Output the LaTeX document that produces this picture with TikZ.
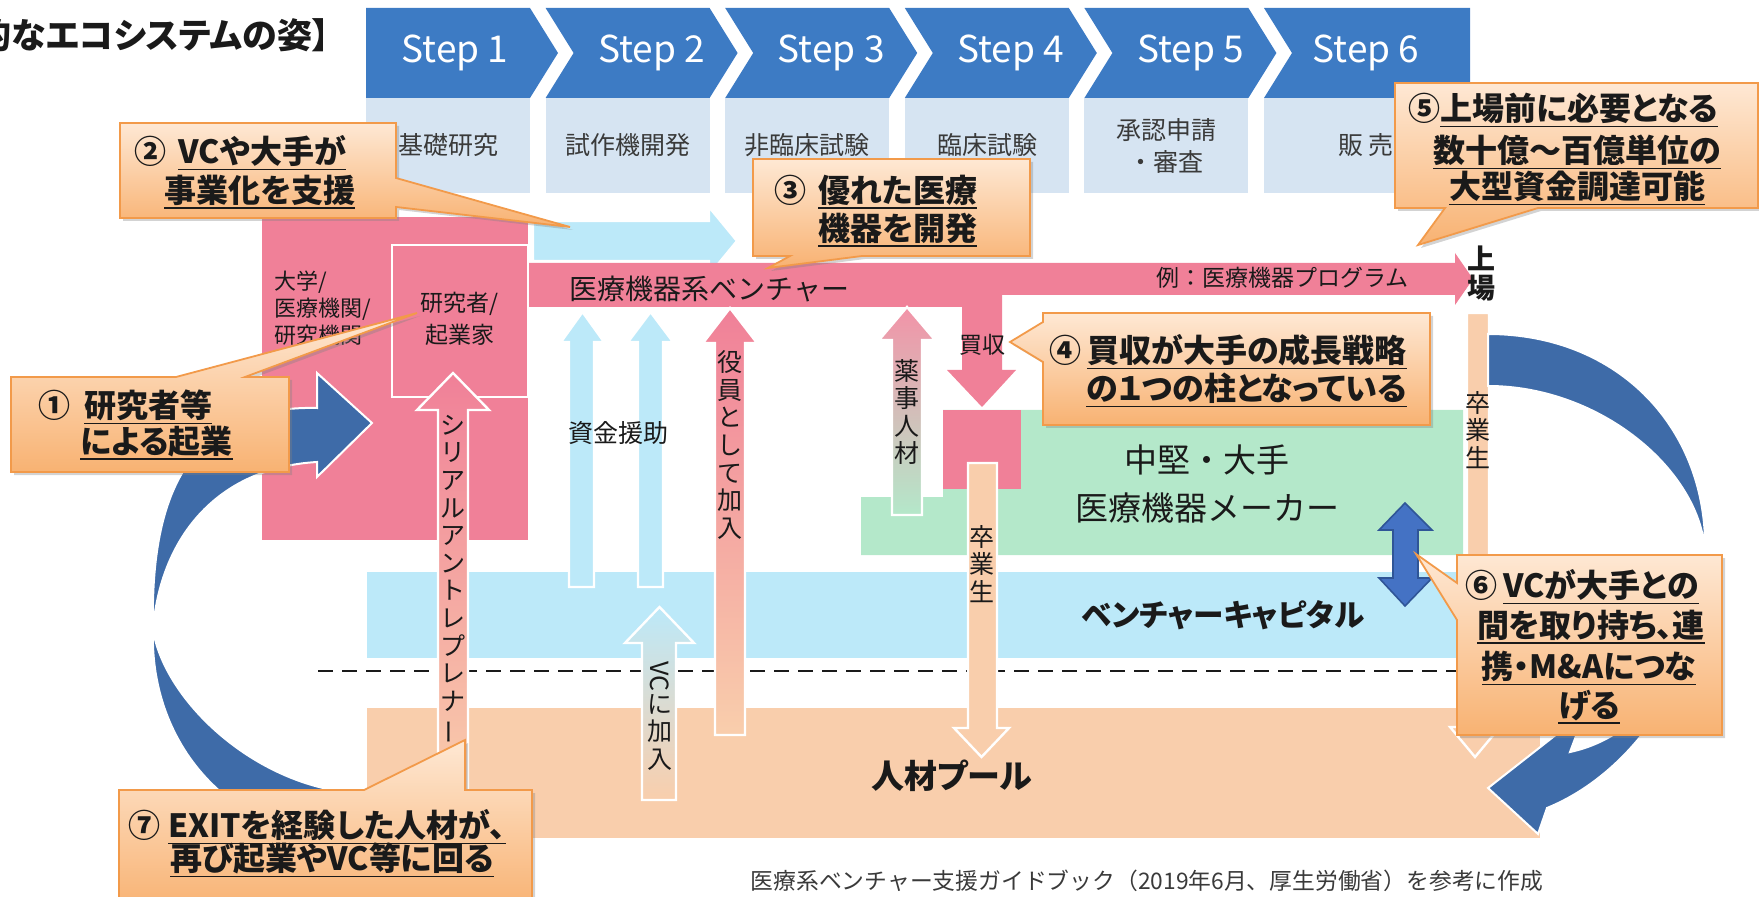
\documentclass[tikz,border=0pt]{standalone}
\usepackage{fontspec}
\usepackage{graphicx}
\setmainfont{Noto Sans CJK JP}
\newfontfamily\jpp{Noto Sans CJK JP}[RawFeature=+palt]
\usetikzlibrary{shadows}
\definecolor{stepblue}{HTML}{3D7BC4}
\definecolor{steplight}{HTML}{D6E4F2}
\definecolor{pinkc}{HTML}{F08098}
\definecolor{lblue}{HTML}{BCE9F9}
\definecolor{greenc}{HTML}{B4E8CA}
\definecolor{peach}{HTML}{F9CEAC}
\definecolor{arcblue}{HTML}{3E6BA8}
\definecolor{dblblue}{HTML}{4472C4}
\definecolor{dbledge}{HTML}{2F5597}
\definecolor{ctop}{HTML}{FEE8D4}
\definecolor{cbot}{HTML}{F8B272}
\definecolor{cedge}{HTML}{F29A4A}
\definecolor{txt}{HTML}{1A1A1A}
\definecolor{gtxt}{HTML}{3A3A3A}
\newcommand\fs[2]{\fontsize{#1}{#2}\selectfont}
\newcommand\ulx[1]{\setbox0\hbox{#1}\rlap{\rule[-3.4pt]{\wd0}{0.8pt}}\box0}
\newcommand\vbar{\rotatebox[origin=c]{90}{ー}}
\newcommand\varrow[8]{\path[#1] (#2,#8) -- (#2,#6) -- (#4,#6) -- ({(#4+#5)/2},#7) -- (#5,#6) -- (#3,#6) -- (#3,#8) -- cycle;}
\newcommand\chev[2]{\fill[stepblue] (#1,8) -- ({#1+164},8) -- ({#1+192},53) -- ({#1+164},98) -- (#1,98) -- ({#1+#2},53) -- cycle;
  \fill[steplight] (#1,98) rectangle ({#1+164},193);}
\begin{document}
\begin{tikzpicture}[x=0.5pt,y=-0.5pt,
  every node/.style={inner sep=0pt,text=txt},
  steptext/.style={text=white,font=\fs{18.5}{20}},
  lbl/.style={text=gtxt,font=\fs{12.5}{16},align=center},
  vtext/.style={font=\fs{12.5}{13.8},align=center},
  lbarrow/.style={fill=lblue,draw=white,line width=1.2pt},
  pinkpeach/.style={top color=pinkc,bottom color=peach,draw=white,line width=1.2pt},
  pinkgreen/.style={top color=pinkc!85,bottom color=greenc,draw=white,line width=1.2pt},
  bluepeach/.style={top color=lblue,bottom color=peach,draw=white,line width=1.2pt},
  peacharrow/.style={fill=peach,draw=white,line width=1.2pt},
  arcarrow/.style={fill=arcblue,draw=white,line width=1pt},
  callout/.style={draw=cedge,line width=0.9pt,top color=ctop,bottom color=cbot,
     drop shadow={shadow xshift=1.5pt,shadow yshift=-1.5pt,opacity=0.35}},
  ctext/.style={font=\jpp\bfseries\fs{16}{19},anchor=west},
]
\useasboundingbox (0,0) rectangle (1759,897);
% ---------- steps ----------
\chev{366}{0}
\chev{545.6}{28}
\chev{725.2}{28}
\chev{904.8}{28}
\chev{1084.4}{28}
\fill[stepblue] (1264,8) -- (1470,8) -- (1470,98) -- (1264,98) -- (1292,53) -- cycle;
\fill[steplight] (1264,98) rectangle (1470,193);
\node[steptext] (s1) at (455,53) {Step 1};
\node[steptext] (s2) at (651.6,53) {Step 2};
\node[steptext] (s3) at (831.2,53) {Step 3};
\node[steptext] (s4) at (1010.8,53) {Step 4};
\node[steptext] (s5) at (1190.4,53) {Step 5};
\node[steptext] (s6) at (1366,53) {Step 6};
\node[lbl] (l1) at (448,145) {基礎研究};
\node[lbl] (l2) at (628,145) {試作機開発};
\node[lbl] (l3) at (807,145) {非臨床試験};
\node[lbl] (l4) at (987,145) {臨床試験};
\node[lbl] (l5) at (1166,146) {承認申請\\・審査};
\node[lbl] (l6) at (1366,145) {販 売};
% ---------- regions ----------
\fill[pinkc] (262,217) rectangle (528,540);
\fill[lblue] (367,572) rectangle (1464,658);
\draw[txt,line width=1.4pt,dash pattern=on 7.5pt off 4.5pt] (318,671) -- (1457,671);
\fill[peach] (367,708) rectangle (1540,838);
\fill[greenc] (861,497) -- (943,497) -- (943,410) -- (1463,410) -- (1463,555) -- (861,555) -- cycle;
% VC support arrow
\path[lbarrow] (533,221) -- (709,221) -- (709,207) -- (737,241) -- (709,275) -- (709,261) -- (533,261) -- cycle;
% venture bar with acquisition arrow
\fill[pinkc] (528,263) -- (1455,263) -- (1455,253) -- (1473,279) -- (1455,305) -- (1455,295) -- (1002,295) -- (1002,370) -- (1016,370) -- (982,407) -- (947,370) -- (962,370) -- (962,307) -- (528,307) -- cycle;
\draw[white,line width=1.3pt] (392,245) rectangle (528,397);
\fill[pinkc] (943,410) rectangle (1021,489);
% ---------- vertical arrows ----------
\varrow{lbarrow}{569}{594}{561}{604}{342}{312}{587}
\varrow{lbarrow}{638}{663}{628}{673}{342}{312}{587}
\varrow{pinkpeach}{715}{745}{703}{757}{343}{308}{735}
\varrow{pinkgreen}{892}{922}{879}{935}{340}{307}{515}
\varrow{pinkpeach}{438}{468}{417}{489}{410}{373}{800}
\varrow{bluepeach}{642}{676}{625}{694}{643}{607}{800}
\varrow{peacharrow}{968}{997}{954}{1009}{728}{757}{463}
\varrow{peacharrow}{1467}{1489}{1450}{1500}{727}{757}{313}
% double arrow
\path[fill=dblblue,draw=dbledge,line width=0.8pt] (1405,503) -- (1432,530) -- (1418,530) -- (1418,578) -- (1432,578) -- (1405,606) -- (1379,578) -- (1393,578) -- (1393,530) -- (1379,530) -- cycle;
% ---------- curved arrows ----------
\path[arcarrow] (317,408) .. controls (185,405) and (150,500) .. (153,630)
  .. controls (165,700) and (250,780) .. (345,792)
  -- (345,835) -- (300,835)
  .. controls (200,805) and (150,720) .. (153,630)
  .. controls (160,540) and (215,468) .. (317,462)
  -- (317,477) -- (372,423) -- (317,373) -- cycle;
\path[arcarrow] (1488,334) .. controls (1620,334) and (1708,430) .. (1705,552)
  .. controls (1702,650) and (1650,735) .. (1570,752)
  -- (1585,712) -- (1488,788) -- (1538,834) -- (1547,808)
  .. controls (1640,770) and (1708,660) .. (1705,552)
  .. controls (1700,470) and (1600,386) .. (1488,386) -- cycle;
% ---------- texts ----------
\node[font=\jpp\bfseries\fs{17.5}{19},anchor=east] (title) at (330,35) {的なエコシステムの姿】};
\node[font=\fs{11}{13.5},align=left,anchor=west] (univ) at (274,308) {大学/\\医療機関/\\研究機関};
\node[font=\fs{11.5}{16},align=center] (res) at (460,319) {研究者/\\起業家};
\node[font=\fs{14}{16},anchor=west] (venture) at (569,289) {医療機器系ベンチャー};
\node[font=\fs{11.5}{14},anchor=west] (prog) at (1156,278) {例：医療機器プログラム};
\node[font=\bfseries\fs{14}{15}] (ue) at (1481,258) {上};
\node[font=\bfseries\fs{14}{15}] (ba) at (1481,288) {場};
\node[font=\fs{11.5}{14}] (kaishu) at (982,345) {買収};
\node[font=\fs{12.5}{15}] (shikin) at (618,433) {資金援助};
\node[font=\fs{16.5}{24},align=center] (maker) at (1207,484) {中堅・大手\\医療機器メーカー};
\node[font=\jpp\bfseries\fs{15.3}{18}] (vc) at (1223,615) {ベンチャーキャピタル};
\node[font=\jpp\bfseries\fs{16.5}{18}] (pool) at (952,776) {人材プール};
\node[vtext] (serial) at (453,580) {シ\\リ\\ア\\ル\\ア\\ン\\ト\\レ\\プ\\レ\\ナ\\\vbar};
\node[vtext] (yakuin) at (730,445) {役\\員\\と\\し\\て\\加\\入};
\node[vtext] (yakuji) at (907,412) {薬\\事\\人\\材};
\node[vtext] (sotsu1) at (982,564) {卒\\業\\生};
\node[vtext] (sotsu2) at (1478,430) {卒\\業\\生};
\node[vtext] (vcjoin) at (660,716) {\rotatebox[origin=c]{-90}{VC}\\に\\加\\入};
\node[font=\fs{11.4}{14},text=gtxt] (src) at (1147,881) {医療系ベンチャー支援ガイドブック（2019年6月、厚生労働省）を参考に作成};
% ---------- callouts ----------
\path[callout] (11,377) -- (176,377) -- (417,313) -- (245,377) -- (289,377) -- (289,472) -- (11,472) -- cycle;
\node[ctext] (c1a) at (38,407) {①\hspace{7pt}\ulx{研究者等}};
\node[ctext] (c1b) at (80,443) {\ulx{による起業}};
\path[callout] (120,123) -- (396,123) -- (396,178) -- (570,227) -- (396,207) -- (396,218) -- (120,218) -- cycle;
\node[ctext] (c2a) at (134,153) {②\hspace{6pt}\ulx{VCや大手が}};
\node[ctext] (c2b) at (164,192) {\ulx{事業化を支援}};
\path[callout] (753,159) -- (1030,159) -- (1030,256) -- (862,256) -- (768,268) -- (790,256) -- (753,256) -- cycle;
\node[ctext] (c3a) at (774,192) {③\hspace{6pt}\ulx{優れた医療}};
\node[ctext] (c3b) at (818,230) {\ulx{機器を開発}};
\path[callout] (1043,313) -- (1430,313) -- (1430,425) -- (1043,425) -- (1043,362) -- (1010,342) -- (1043,322) -- cycle;
\node[ctext] (c4a) at (1049,352) {④\hspace{3pt}\ulx{買収が大手の成長戦略}};
\node[ctext] (c4b) at (1086,390) {\ulx{の１つの柱となっている}};
\path[callout] (1395,83) -- (1758,83) -- (1758,208) -- (1538,208) -- (1418,245) -- (1445,208) -- (1395,208) -- cycle;
\node[ctext] (c5a) at (1408,110) {⑤\ulx{上場前に必要となる}};
\node[ctext] (c5b) at (1433,152) {\ulx{数十億～百億単位の}};
\node[ctext] (c5c) at (1449,188) {\ulx{大型資金調達可能}};
\path[callout] (1457,555) -- (1722,555) -- (1722,735) -- (1457,735) -- (1457,620) -- (1416,554) -- (1457,583) -- cycle;
\node[ctext,anchor=center] (c6a) at (1582,587) {⑥\hspace{3pt}\ulx{VCが大手との}};
\node[ctext,anchor=center] (c6b) at (1591,627) {\ulx{間を取り持ち、連}};
\node[ctext,anchor=center] (c6c) at (1589,668) {\ulx{携・M\&Aにつな}};
\node[ctext,anchor=center] (c6d) at (1589,707) {\ulx{げる}};
\path[callout] (119,790) -- (364,790) -- (465,740) -- (465,790) -- (532,790) -- (532,910) -- (119,910) -- cycle;
\node[ctext] (c7a) at (128,827) {⑦\hspace{4pt}\ulx{EXITを経験した人材が、}};
\node[ctext] (c7b) at (170,860) {\ulx{再び起業やVC等に回る}};
\end{tikzpicture}
\end{document}
